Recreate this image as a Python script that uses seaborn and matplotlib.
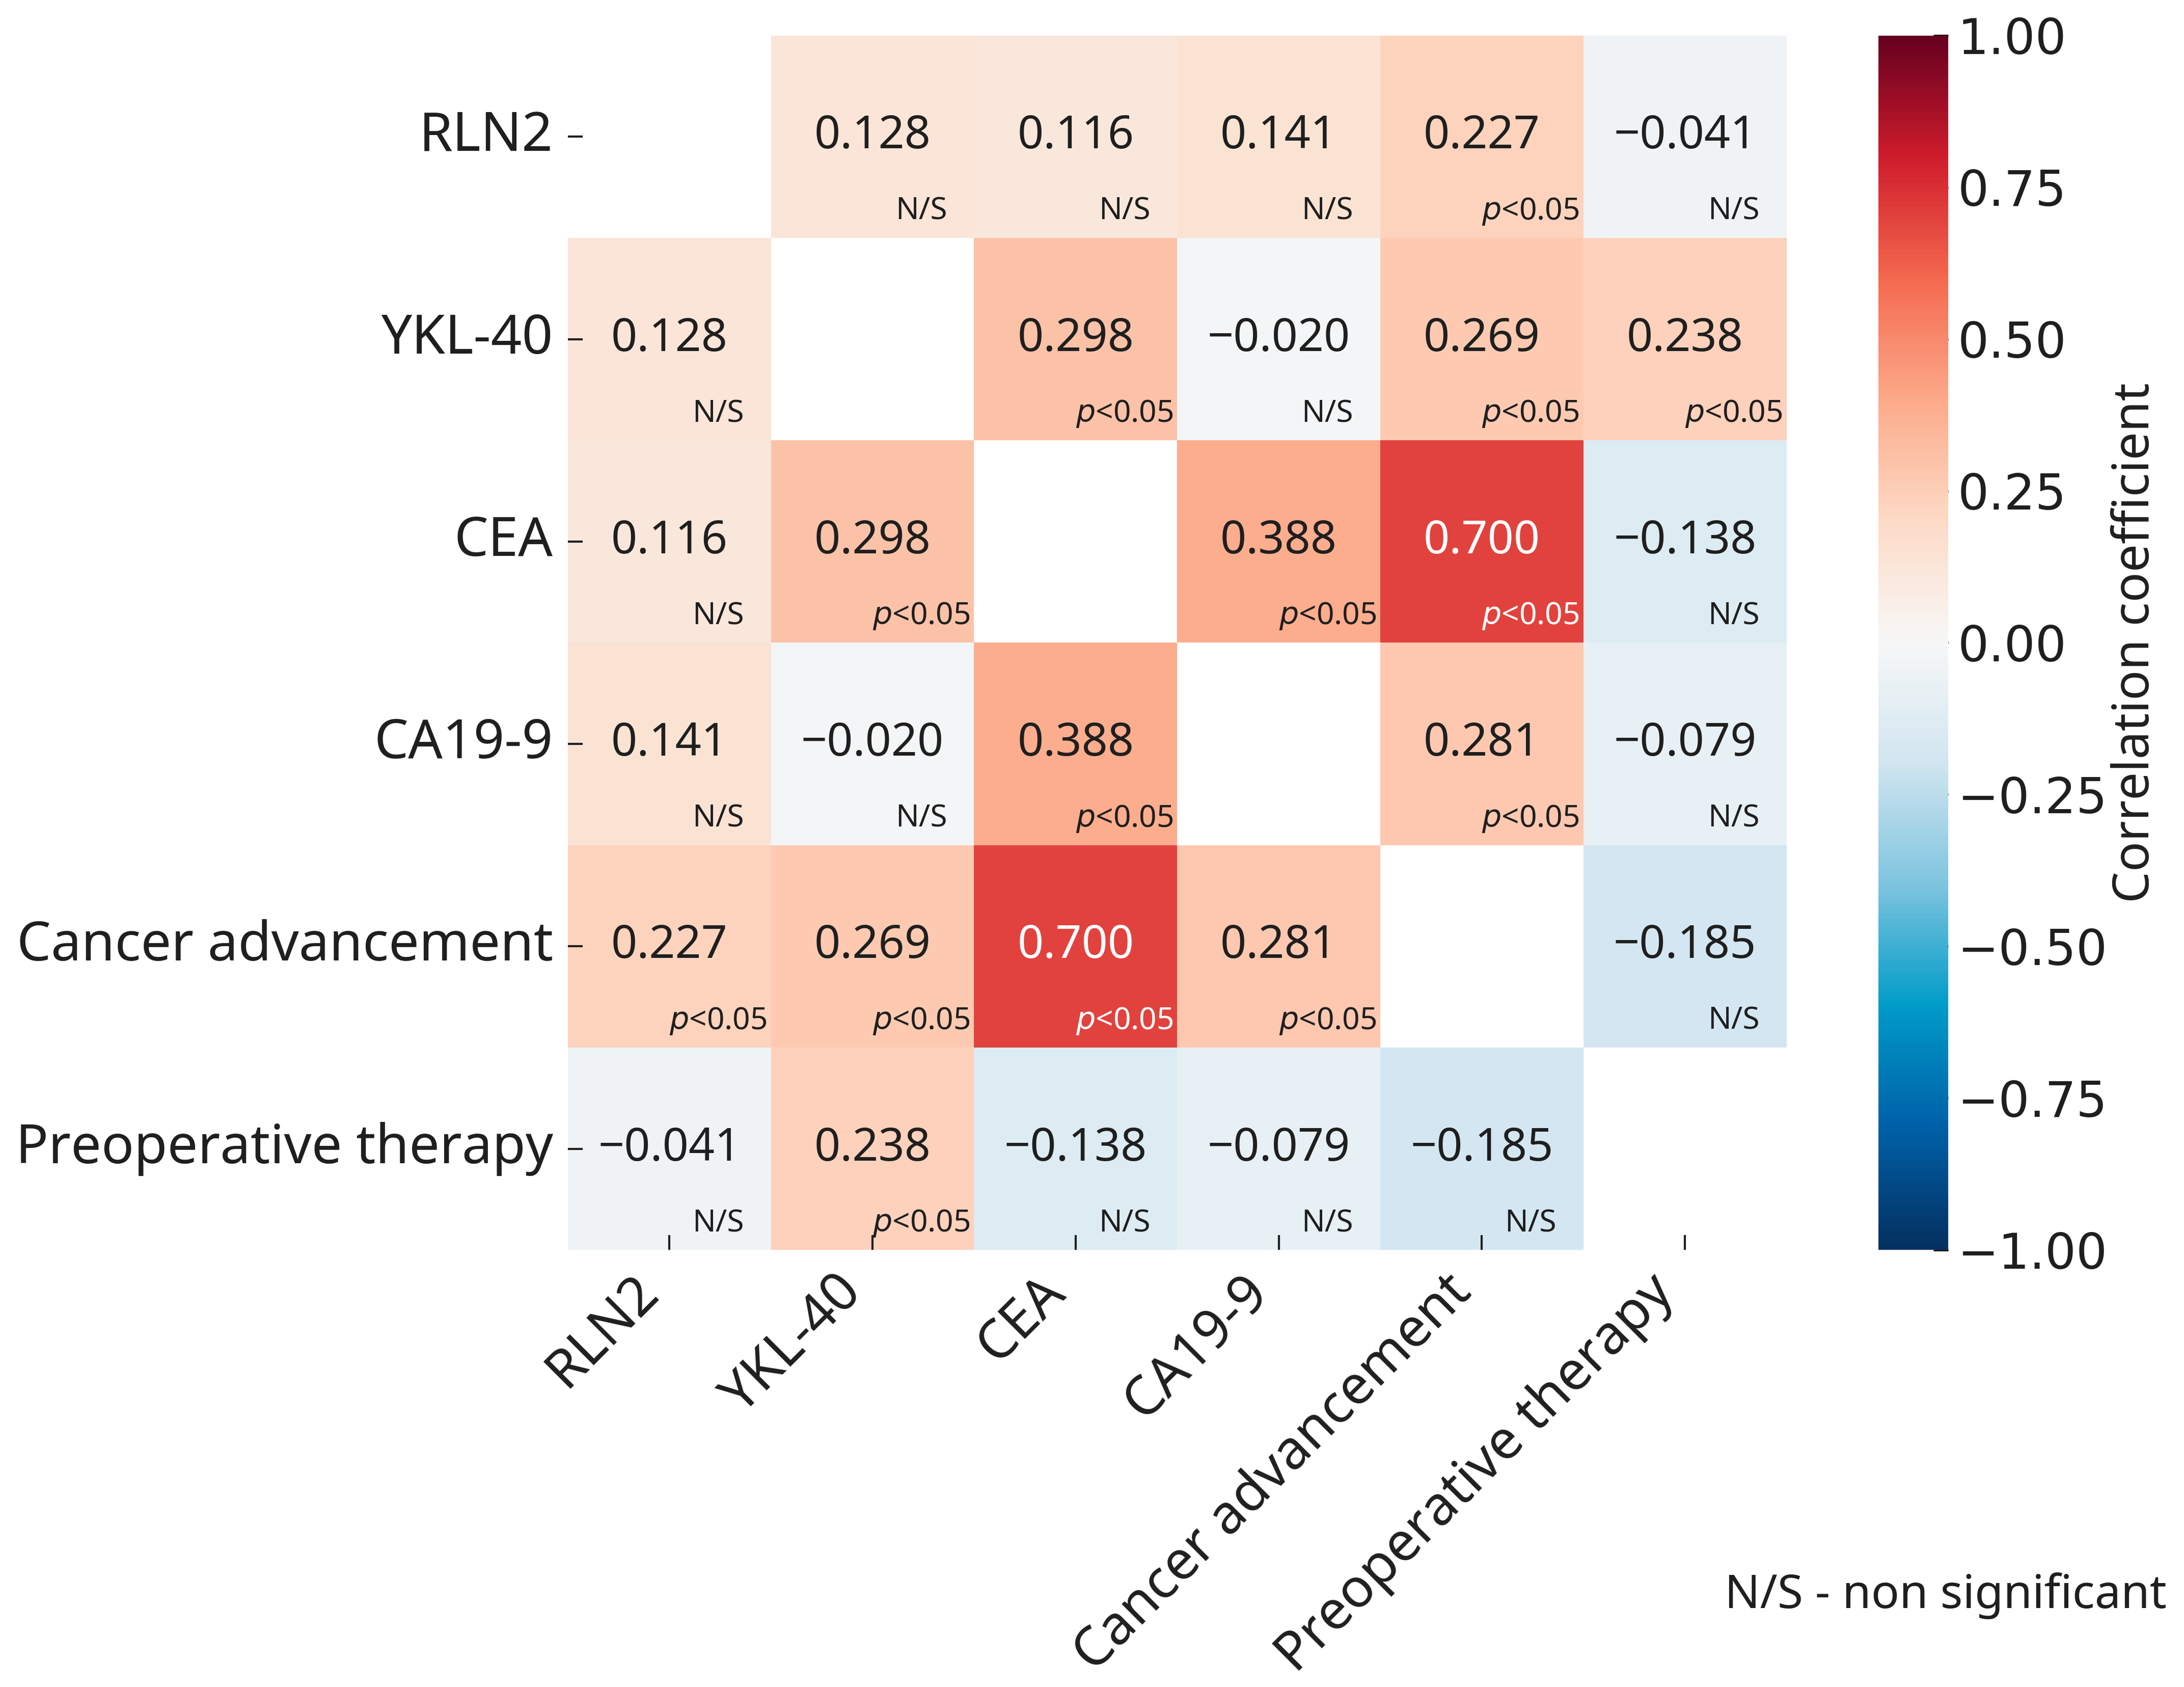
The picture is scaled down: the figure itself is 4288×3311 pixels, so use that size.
import numpy as np
import pandas as pd
import matplotlib.pyplot as plt
import seaborn as sns
from matplotlib.colors import LinearSegmentedColormap

labels = ["RLN2", "YKL-40", "CEA", "CA19-9", "Cancer advancement", "Preoperative therapy"]

# correlation values, diagonal left empty (nan)
rln2 = [np.nan, 0.128, 0.116, 0.141, 0.227, -0.041]
ykl40 = [0.128, np.nan, 0.298, -0.020, 0.269, 0.238]
cea = [0.116, 0.298, np.nan, 0.388, 0.700, -0.138]
ca199 = [0.141, -0.020, 0.388, np.nan, 0.281, -0.079]
cancer_adv = [0.227, 0.269, 0.700, 0.281, np.nan, -0.185]
preop = [-0.041, 0.238, -0.138, -0.079, -0.185, np.nan]

# significance flags (True = p<0.05)
sig_rln2 = [False, False, False, False, True, False]
sig_ykl40 = [False, False, True, False, True, True]
sig_cea = [False, True, False, True, True, False]
sig_ca199 = [False, False, True, False, True, False]
sig_cancer_adv = [True, True, True, True, False, False]
sig_preop = [False, True, False, False, False, False]

corr = pd.DataFrame([rln2, ykl40, cea, ca199, cancer_adv, preop], index=labels, columns=labels)
sig = np.array([sig_rln2, sig_ykl40, sig_cea, sig_ca199, sig_cancer_adv, sig_preop])

# a slightly more saturated RdBu_r, as in the original figure
cmap = LinearSegmentedColormap.from_list("rdbu_sat", [
    "#053061", "#0060a8", "#009bc8", "#7ec4df", "#d1e5f0", "#f7f7f7",
    "#fddbc7", "#fcaa8a", "#f4694f", "#d01c2c", "#67001f"])

sns.set_style("white")
plt.rcParams["font.family"] = ["Noto Sans", "DejaVu Sans"]
text_col = "#1f1f1f"

fig = plt.figure(figsize=(4288 / 300, 3311 / 300), dpi=300)
ax = fig.add_axes([0.260, 0.259, 0.558, 0.720])
cax = fig.add_axes([0.860, 0.259, 0.032, 0.720])

sns.heatmap(corr, ax=ax, cbar_ax=cax, cmap=cmap, vmin=-1, vmax=1,
            mask=corr.isna(), linewidths=0,
            cbar_kws={"label": "Correlation coefficient"})
ax.set_axisbelow(False)

# annotations: value in the middle, significance at lower right
for i in range(len(labels)):
    for j in range(len(labels)):
        v = corr.iloc[i, j]
        if np.isnan(v):
            continue
        col = "white" if abs(v) > 0.5 else text_col
        ax.text(j + 0.5, i + 0.5, f"{v:.3f}".replace("-", "\u2212"),
                ha="center", va="center", fontsize=21.5, color=col)
        sub = r"$\it{p}$<0.05" if sig[i, j] else "N/S"
        ax.text(j + 0.74, i + 0.87, sub, ha="center", va="center",
                fontsize=14.5, color=col)

ax.set_xticks(np.arange(len(labels)) + 0.5)
ax.set_yticks(np.arange(len(labels)) + 0.5)
ax.set_xticklabels(labels, rotation=45, ha="right", fontsize=25.5, color=text_col)
ax.set_yticklabels(labels, rotation=0, fontsize=25.5, color=text_col)
ax.tick_params(axis="both", direction="in", length=7, width=1, color=text_col,
               left=True, bottom=True, pad=7)
ax.set_xlabel("")
ax.set_ylabel("")

cbar = ax.collections[0].colorbar
cbar.set_ticks(np.linspace(-1, 1, 9))
cbar.ax.tick_params(direction="in", length=7, width=1.2, labelsize=23,
                    labelcolor=text_col, color=text_col, pad=4.5)
for t in cbar.ax.get_yticklabels():
    t.set_family("DejaVu Sans")
cbar.outline.set_visible(False)
cbar.set_label("Correlation coefficient", fontsize=23.5, color=text_col, labelpad=1.5)

fig.text(0.992, 0.054, "N/S - non significant", ha="right", va="center",
         fontsize=22, color=text_col)

fig.savefig("out.png", dpi=300)
